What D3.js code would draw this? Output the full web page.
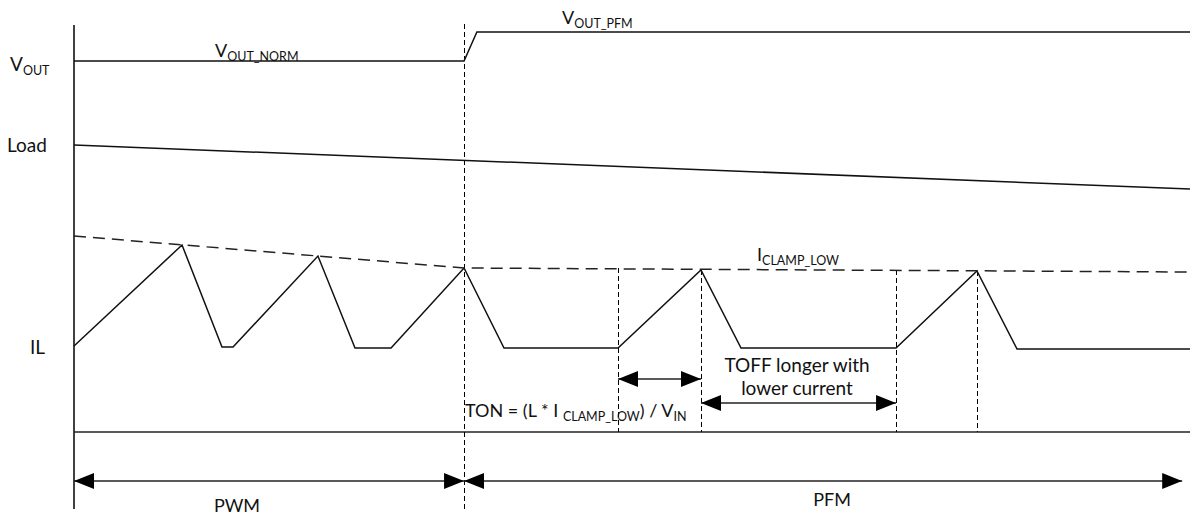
<!DOCTYPE html>
<html>
<head>
<meta charset="utf-8">
<script src="https://cdn.jsdelivr.net/npm/d3@7"></script>
<style>
  body { margin: 0; background: #fff; }
  text { font-family: Lato, "Open Sans", sans-serif; fill: #111; }
</style>
</head>
<body>
<div id="chart"></div>
<script>
// time in arbitrary units 0..100, level in arbitrary units (0 = bottom rail)
const voutT = [0, 34.95, 36.1, 100];
const voutV = [92.75, 92.75, 100, 100];

const loadT = [0, 100];
const loadV = [71.75, 60.75];

const clampT = [0, 34.95, 100];
const clampV = [49, 41, 40];

const ilT = [0, 9.68, 13.26, 14.25, 21.86, 25.18, 28.41, 34.95, 38.53, 48.75, 56.18, 59.77, 73.66, 80.91, 84.5, 100];
const ilV = [21.5, 46.75, 21.25, 21.25, 44, 21, 21, 41, 21, 21, 40.5, 21, 21, 40.25, 20.75, 20.75];

// dashed markers: [time, top level]
const markT = [34.95, 48.75, 56.18, 73.66, 80.91];
const markTop = [102, 41, 40.5, 40.5, 40.25];

const modeNames = ["PWM", "PFM"];
const modeT = [0, 34.95, 99.3];

const width = 1190, height = 515;
const x = d3.scaleLinear().domain([0, 100]).range([74, 1190]);
const y = d3.scaleLinear().domain([0, 100]).range([432, 32]);

const svg = d3.select("#chart").append("svg").attr("width", width).attr("height", height);

const defs = svg.append("defs");
defs.append("marker")
    .attr("id", "head")
    .attr("viewBox", "0 0 20 16")
    .attr("refX", 20).attr("refY", 8)
    .attr("markerWidth", 20).attr("markerHeight", 16)
    .attr("markerUnits", "userSpaceOnUse")
    .attr("orient", "auto-start-reverse")
    .append("path").attr("d", "M0,0 L20,8 L0,16 Z").attr("fill", "#000");

const line = d3.line().x(d => x(d[0])).y(d => y(d[1]));
const zip = (a, b) => a.map((t, i) => [t, b[i]]);

// left rail + bottom rail
svg.append("line").attr("x1", x(0)).attr("x2", x(0)).attr("y1", y(101.75)).attr("y2", y(-19.25))
    .attr("stroke", "#000").attr("stroke-width", 1.5);
svg.append("line").attr("x1", x(0)).attr("x2", x(100)).attr("y1", y(0)).attr("y2", y(0))
    .attr("stroke", "#222").attr("stroke-width", 1.5);

// dashed vertical markers
svg.selectAll(".mark").data(markT).enter().append("line")
    .attr("x1", d => Math.round(x(d)) + 0.5).attr("x2", d => Math.round(x(d)) + 0.5)
    .attr("y1", (d, i) => y(markTop[i]))
    .attr("y2", (d, i) => i === 0 ? y(-19.25) : y(0))
    .attr("stroke", "#000").attr("stroke-width", 1).attr("stroke-dasharray", "5,3");

// signals
const solid = [zip(voutT, voutV), zip(loadT, loadV), zip(ilT, ilV)];
svg.selectAll(".sig").data(solid).enter().append("path")
    .attr("d", line).attr("fill", "none").attr("stroke", "#111").attr("stroke-width", 1.5);

svg.append("path").datum(zip(clampT, clampV)).attr("d", line)
    .attr("fill", "none").attr("stroke", "#222").attr("stroke-width", 1.5)
    .attr("stroke-dasharray", "12,7");

// arrows
function arrow(t0, t1, v) {
    svg.append("line").attr("x1", x(t0)).attr("x2", x(t1)).attr("y1", y(v)).attr("y2", y(v))
        .attr("stroke", "#222").attr("stroke-width", 1.5)
        .attr("marker-start", "url(#head)").attr("marker-end", "url(#head)");
}
arrow(48.75, 56.18, 13.25);
arrow(56.18, 73.66, 7.25);
arrow(modeT[0], modeT[1], -12.25);
arrow(modeT[1], modeT[2], -12.25);

// text helpers: parts are [string, isSubscript]
function label(px, py, parts, anchor, big) {
    const t = svg.append("text").attr("x", px).attr("y", py).attr("text-anchor", anchor || "start");
    let prevSub = false;
    parts.forEach(p => {
        const s = t.append("tspan").text(p[0]).attr("font-size", p[1] ? 12.5 : (big || 18));
        if (p[1] && !prevSub) s.attr("dy", 4);
        else if (!p[1] && prevSub) s.attr("dy", -4);
        prevSub = !!p[1];
    });
    return t;
}

label(10, 71, [["V"], ["OUT", 1]], "start", 19);
svg.append("text").attr("x", 7).attr("y", 152).attr("font-size", 19).text("Load");
svg.append("text").attr("x", 30).attr("y", 354).attr("font-size", 19).text("IL");

label(215, 57, [["V"], ["OUT_NORM", 1]]);
label(562, 24, [["V"], ["OUT_PFM", 1]]);
label(757, 261, [["I"], ["CLAMP_LOW", 1]]);
label(465, 417, [["TON = (L * I "], ["CLAMP_LOW", 1], [") / V"], ["IN", 1]]);

svg.append("text").attr("x", 797).attr("y", 372).attr("text-anchor", "middle").attr("font-size", 19).text("TOFF longer with");
svg.append("text").attr("x", 797).attr("y", 395).attr("text-anchor", "middle").attr("font-size", 19).text("lower current");

svg.selectAll(".mode").data(modeNames).enter().append("text")
    .attr("x", (d, i) => i === 0 ? 237 : 832)
    .attr("y", (d, i) => i === 0 ? 512 : 506)
    .attr("text-anchor", "middle").attr("font-size", 18).text(d => d);
</script>
</body>
</html>
